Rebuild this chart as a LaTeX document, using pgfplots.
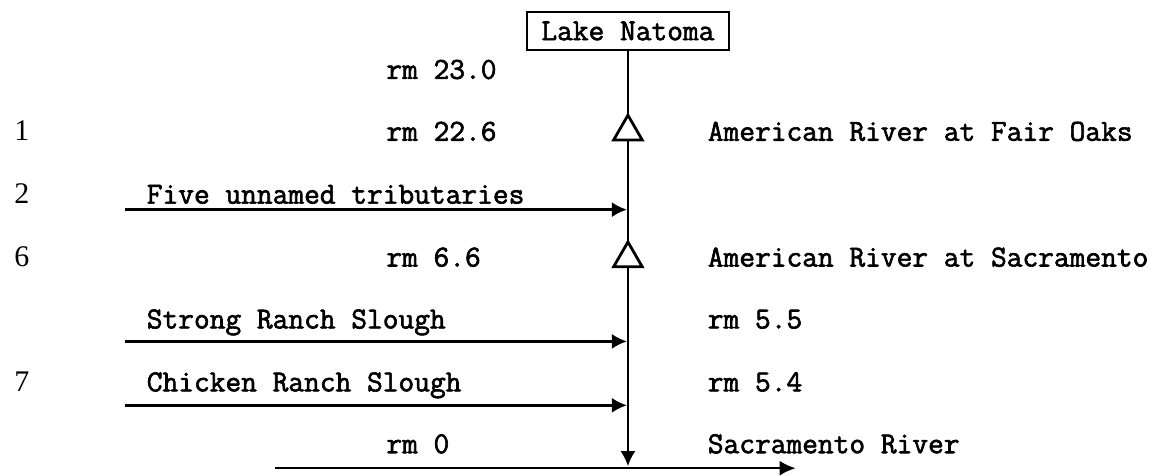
\documentclass[border=0pt]{standalone}
\usepackage{fontspec}
\setmainfont{Liberation Serif}
\newfontfamily\tw{Latin Modern Mono}[FakeBold=2]
\usepackage{pgfplots}
\pgfplotsset{compat=1.18}
\usetikzlibrary{arrows.meta}
\begin{document}
\begin{tikzpicture}
\begin{axis}[
  width=577.5pt, height=236.5pt, scale only axis,
  xmin=0, xmax=1155, ymin=0, ymax=473, y dir=reverse,
  hide axis, clip=false,
  every node/.style={inner sep=0pt, outer sep=0pt},
]
% invisible frame for bounding box
\addplot[draw=none] coordinates {(0,0) (1155,473)};
% main stem: Lake Natoma down to Sacramento River
\addplot[line width=1.2pt, -{Latex[length=7.5pt,width=7.5pt]}] coordinates {(629,50) (629,467)};
% tributaries
\addplot[line width=1.2pt, -{Latex[length=7.5pt,width=7.5pt]}] coordinates {(125,210) (628,210)};
\addplot[line width=1.2pt, -{Latex[length=7.5pt,width=7.5pt]}] coordinates {(125,342) (628,342)};
\addplot[line width=1.2pt, -{Latex[length=7.5pt,width=7.5pt]}] coordinates {(125,406) (628,406)};
% Sacramento River
\addplot[line width=1.2pt, -{Latex[length=8pt,width=7.5pt]}] coordinates {(275,469) (797,469)};
% gaging stations
\addplot[only marks, mark=triangle*, mark size=8.3pt,
  mark options={line width=1.4pt, fill=white, draw=black}] coordinates {(629,132) (629,259)};
% labels
\node[draw, line width=1.1pt, minimum width=101pt, minimum height=19pt, font=\tw\fontsize{15.3}{18}\selectfont] at (axis cs:629,31) {Lake Natoma};
\begin{scope}[every node/.append style={anchor=base west, font=\tw\fontsize{15.3}{18}\selectfont}]
\node at (axis cs:380,79) {rm 23.0};
\node at (axis cs:380,141) {rm 22.6};
\node at (axis cs:702,141) {American River at Fair Oaks};
\node at (axis cs:140,204) {Five unnamed tributaries};
\node at (axis cs:380,267) {rm 6.6};
\node at (axis cs:702,267) {American River at Sacramento};
\node at (axis cs:140,329) {Strong Ranch Slough};
\node at (axis cs:702,329) {rm 5.5};
\node at (axis cs:140,392) {Chicken Ranch Slough};
\node at (axis cs:702,392) {rm 5.4};
\node at (axis cs:380,454) {rm 0};
\node at (axis cs:702,454) {Sacramento River};
\end{scope}
\begin{scope}[every node/.append style={anchor=base, font=\fontsize{15}{18}\selectfont}]
\node at (axis cs:22,141) {1};
\node at (axis cs:22,204) {2};
\node at (axis cs:22,267) {6};
\node at (axis cs:22,392) {7};
\end{scope}
\end{axis}
\end{tikzpicture}
\end{document}
